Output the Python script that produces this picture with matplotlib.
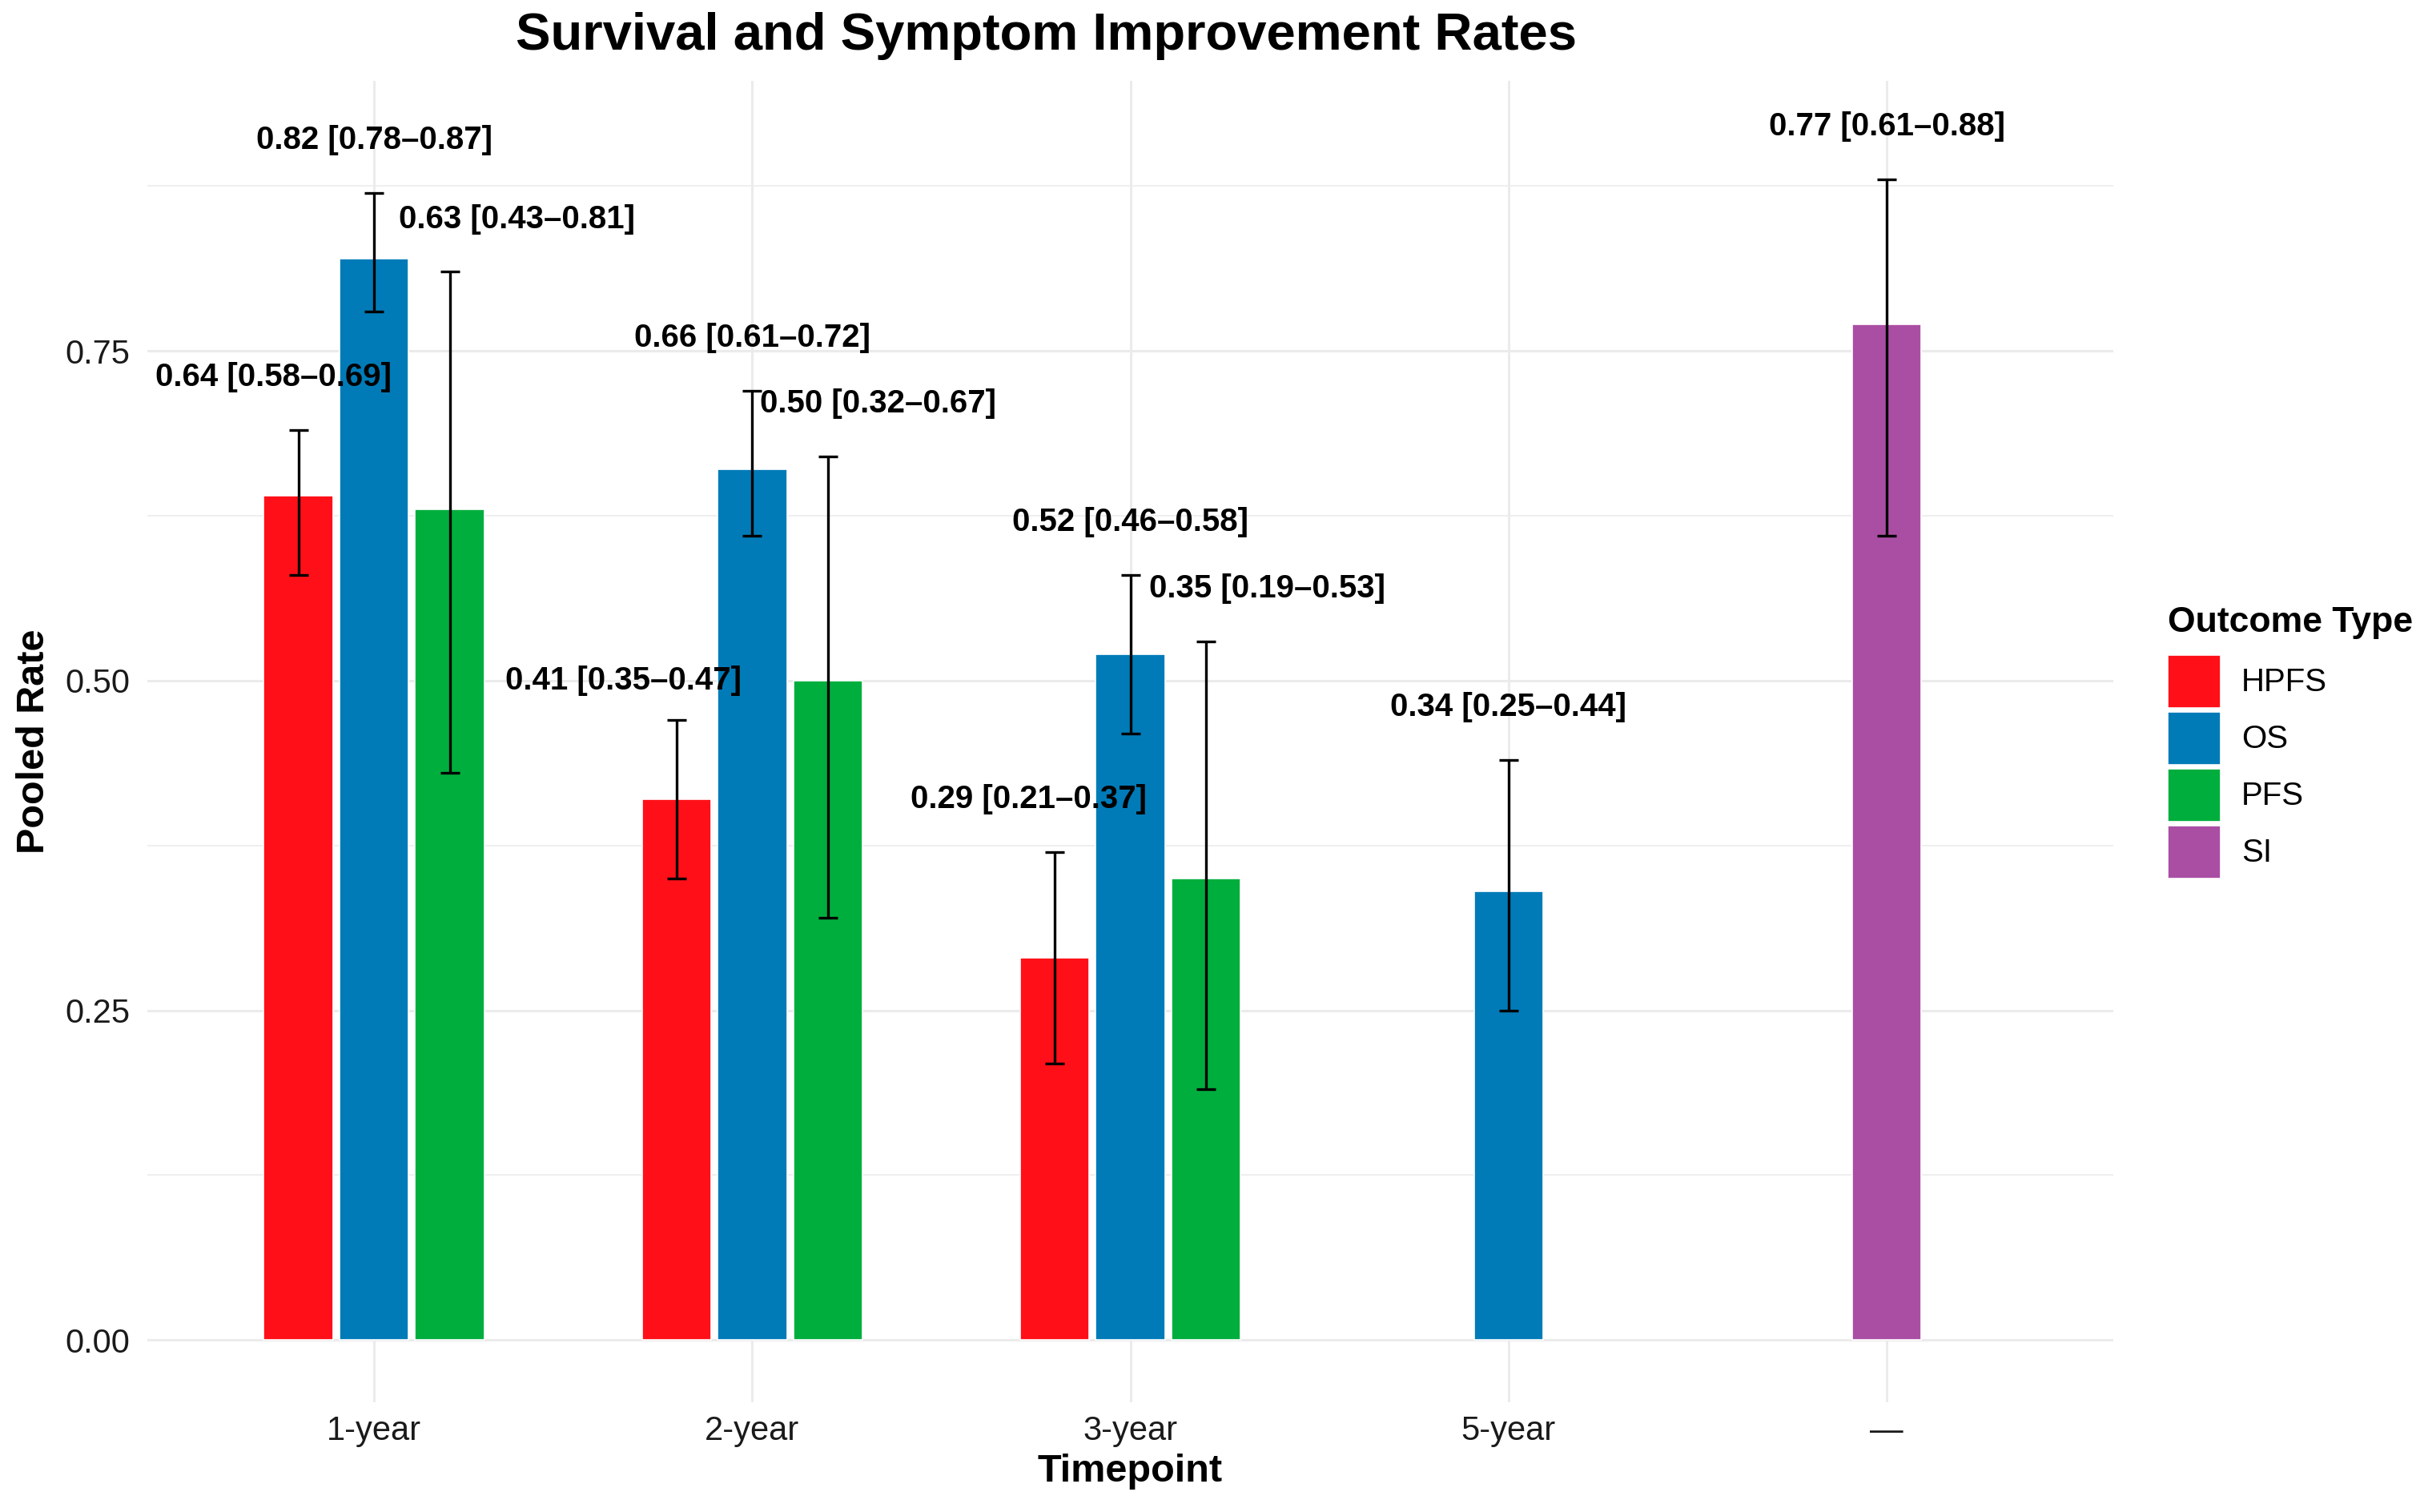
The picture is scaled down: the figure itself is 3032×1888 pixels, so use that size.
import matplotlib
matplotlib.use("Agg")
import matplotlib.pyplot as plt
from matplotlib.patches import Patch
from matplotlib.ticker import MultipleLocator

plt.rcParams['font.family'] = ['Liberation Sans', 'DejaVu Sans']

# 数据
timepoints = ["1-year", "2-year", "3-year", "5-year", "—"]
outcomes = ["HPFS", "OS", "PFS", "SI"]
colors = {"HPFS": "#FF1018", "OS": "#007BB8", "PFS": "#00AE3D", "SI": "#AA4EA4"}

hpfs_tp = ["1-year", "2-year", "3-year"]
hpfs_rate = [0.64, 0.41, 0.29]
hpfs_lo = [0.58, 0.35, 0.21]
hpfs_hi = [0.69, 0.47, 0.37]

os_tp = ["1-year", "2-year", "3-year", "5-year"]
os_rate = [0.82, 0.66, 0.52, 0.34]
os_lo = [0.78, 0.61, 0.46, 0.25]
os_hi = [0.87, 0.72, 0.58, 0.44]

pfs_tp = ["1-year", "2-year", "3-year"]
pfs_rate = [0.63, 0.50, 0.35]
pfs_lo = [0.43, 0.32, 0.19]
pfs_hi = [0.81, 0.67, 0.53]

si_tp = ["—"]
si_rate = [0.77]
si_lo = [0.61]
si_hi = [0.88]

series = {
    "HPFS": (hpfs_tp, hpfs_rate, hpfs_lo, hpfs_hi),
    "OS": (os_tp, os_rate, os_lo, os_hi),
    "PFS": (pfs_tp, pfs_rate, pfs_lo, pfs_hi),
    "SI": (si_tp, si_rate, si_lo, si_hi),
}

# 标签位置微调（相对柱子中心，类似 ggrepel 的结果）
label_dx = {
    "HPFS": [-0.066, -0.14, -0.07],
    "OS": [0.0, 0.0, 0.0, 0.0],
    "PFS": [0.177, 0.132, 0.161],
    "SI": [0.0],
}
label_dy = {
    "HPFS": [0.04, 0.03, 0.04],
    "OS": [0.04, 0.04, 0.04, 0.04],
    "PFS": [0.04, 0.04, 0.04],
    "SI": [0.04],
}

dodge = 0.2
bar_w = 0.183

fig = plt.figure(figsize=(15.16, 9.44), dpi=200)
ax = fig.add_axes([0.0606, 0.0727, 0.8705 - 0.0606, 0.9467 - 0.0727])

# 每个时间点有几个分组
groups_at = {tp: [o for o in outcomes if tp in series[o][0]] for tp in timepoints}

for o in outcomes:
    tps, rate, lo, hi = series[o]
    xs = []
    for tp in tps:
        g = groups_at[tp]
        n = len(g)
        xs.append(timepoints.index(tp) + (g.index(o) - (n - 1) / 2) * dodge)
    ax.bar(xs, rate, width=bar_w, color=colors[o], edgecolor="white",
           linewidth=0.6, zorder=2)
    yerr = [[r - l for r, l in zip(rate, lo)], [h - r for r, h in zip(rate, hi)]]
    ax.errorbar(xs, rate, yerr=yerr, fmt="none", ecolor="black",
                elinewidth=1.2, capsize=4.2, capthick=1.2, zorder=3)
    for i, x in enumerate(xs):
        txt = f"{rate[i]:.2f} [{lo[i]:.2f}–{hi[i]:.2f}]"
        ax.text(x + label_dx[o][i], hi[i] + label_dy[o][i], txt,
                ha="center", va="center", fontsize=14.5, fontweight="bold",
                color="black", zorder=4)

ax.set_xlim(-0.6, 4.6)
ax.set_ylim(-0.047, 0.955)
ax.set_xticks(range(len(timepoints)))
ax.set_xticklabels(timepoints)
ax.yaxis.set_minor_locator(MultipleLocator(0.125))
ax.set_yticks([0, 0.25, 0.5, 0.75])
ax.set_yticklabels(["0.00", "0.25", "0.50", "0.75"])

ax.grid(which="major", color="#EBEBEB", linewidth=1.1)
ax.grid(which="minor", axis="y", color="#EBEBEB", linewidth=0.55)
ax.set_axisbelow(True)
for s in ax.spines.values():
    s.set_visible(False)
ax.tick_params(which="both", length=0)
ax.tick_params(axis="y", labelsize=15, labelcolor="#1a1a1a", pad=7.6)
ax.tick_params(axis="x", labelsize=15, labelcolor="#1a1a1a", pad=6)

ax.set_xlabel("Timepoint", fontsize=17.5, fontweight="bold", va="center")
ax.xaxis.set_label_coords(0.5, -0.0528)
ax.set_ylabel("Pooled Rate", fontsize=17.5, fontweight="bold", va="center")
ax.yaxis.set_label_coords(-0.0575, 0.5)

fig.text(0.431, 0.9672, "Survival and Symptom Improvement Rates",
         ha="center", va="baseline", fontsize=23.5, fontweight="bold")

handles = [Patch(facecolor=colors[o], edgecolor="white", linewidth=0.6, label=o)
           for o in outcomes]
leg = fig.legend(handles=handles, title="Outcome Type", loc="upper left",
                 bbox_to_anchor=(0.8928, 0.599), frameon=False, fontsize=14.5,
                 title_fontproperties={"size": 16, "weight": "bold"},
                 handlelength=1.64, handleheight=2.144, labelspacing=0.124,
                 handletextpad=0.65, borderpad=0, borderaxespad=0,
                 alignment="left")
# 标题和色块之间留多一点空
leg._legend_box.sep = 7

fig.savefig("out.png", dpi=200, facecolor="white")
